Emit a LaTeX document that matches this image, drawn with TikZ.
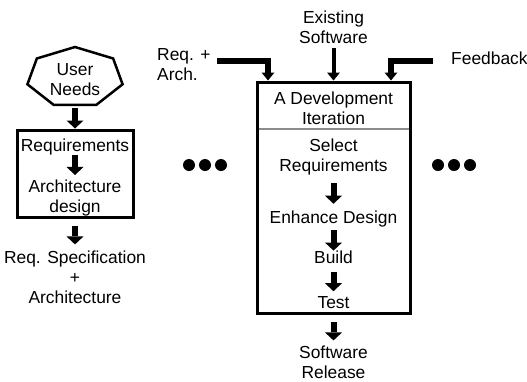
\documentclass[tikz,border=0pt]{standalone}
\usepackage{fontspec}
\setmainfont{Liberation Sans}
\usetikzlibrary{arrows.meta, positioning, calc}
\tikzset{
    txt/.style={inner sep=0pt, font=\fontsize{17.4}{20}\selectfont, align=center},
    frameBox/.style={draw, line width=3pt, inner sep=0pt},
    sepLine/.style={draw=black!45, line width=1.5pt},
    blockArrow/.style={line width=6pt, -{Triangle[length=8pt, width=17pt, line width=0pt]}},
    feedArrow/.style={line width=6pt, -{Triangle[length=8pt, width=13pt, line width=0pt]}},
    thinArrow/.style={line width=4pt, -{Triangle[length=8pt, width=13pt, line width=0pt]}},
    dotMark/.style={circle, fill=black, inner sep=0pt, minimum size=12pt},
}
\newcommand{\drawStep}[3][]{
    \draw[blockArrow, #1] (#2) -- (#3);
}

\begin{document}
\begin{tikzpicture}[x=1pt, y=-1pt]
        \useasboundingbox (0,0) rectangle (527,381);

        % left column
        \node[txt] (needs) at (75,80) {User\\Needs};
        \begin{scope}[shift={(75,77.5)}, xscale=1.6]
            \draw[line width=2.5pt] (-90:30.5) \foreach \k in {1,...,6} {-- (-90+\k*360/7:30.5)} -- cycle;
        \end{scope}
        \coordinate (needsBot) at (75,105);
        \node[frameBox, minimum width=116pt, minimum height=87pt] (reqBox) at (75,173.5) {};
        \node[txt] (req) at (75,146.8) {Requirements};
        \node[txt] (arch) at (75,197.8) {Architecture\\design};
        \node[txt] (spec) at (75,277.5) {Req. Specification\\+\\Architecture};

        \drawStep[shorten <=3pt]{needsBot}{reqBox.north}
        \drawStep[shorten >=4.5pt]{req.south}{arch.north}
        \drawStep[shorten <=7.5pt, shorten >=6.5pt]{reqBox.south}{spec.north}

        % development iteration
        \node[txt] (exist) at (333.5,27) {Existing\\Software};
        \node[txt, align=left, anchor=west] (reqArch) at (157,65) {Req. +\\Arch.};
        \node[txt, anchor=west] (feed) at (451,58) {Feedback};
        \node[frameBox, minimum width=153pt, minimum height=231pt] (devBox) at (333.5,197.5) {};
        \node[txt] (iter) at (333.5,108) {A Development\\Iteration};
        \coordinate (sepY) at (0,129);
        \draw[sepLine, shorten <=3pt, shorten >=3pt] (devBox.west |- sepY) -- (devBox.east |- sepY);
        \node[txt] (sel) at (333.5,156.8) {Select\\Requirements};
        \node[txt] (enh) at (333.5,218.8) {Enhance Design};
        \node[txt] (build) at (333.5,257.5) {Build};
        \node[txt] (test) at (333.5,302.5) {Test};
        \node[txt] (rel) at (333.5,362) {Software\\Release};

        \draw[thinArrow, shorten <=4.8pt] (exist.south) -- (devBox.north);
        \coordinate (reqIn) at (217,60.5);
        \coordinate (feedIn) at (433,60.5);
        \draw[feedArrow] (reqIn) -| ([xshift=12.5pt]devBox.north west);
        \draw[feedArrow] (feedIn) -| ([xshift=-20.5pt]devBox.north east);

        \drawStep[shorten <=8pt, shorten >=6.75pt]{sel.south}{enh.north}
        \drawStep[shorten <=3pt, shorten >=0.3pt]{enh.south}{build.north}
        \drawStep[shorten <=8pt, shorten >=5pt]{build.south}{test.north}
        \drawStep[shorten <=7.5pt, shorten >=5pt]{devBox.south}{rel.north}

        % dots
        \foreach \i in {0,1,2} {
            \node[dotMark] (dotL\i) at ({189+16*\i},165) {};
            \node[dotMark] (dotR\i) at ({438+16*\i},165) {};
        }
    \end{tikzpicture}
\end{document}
